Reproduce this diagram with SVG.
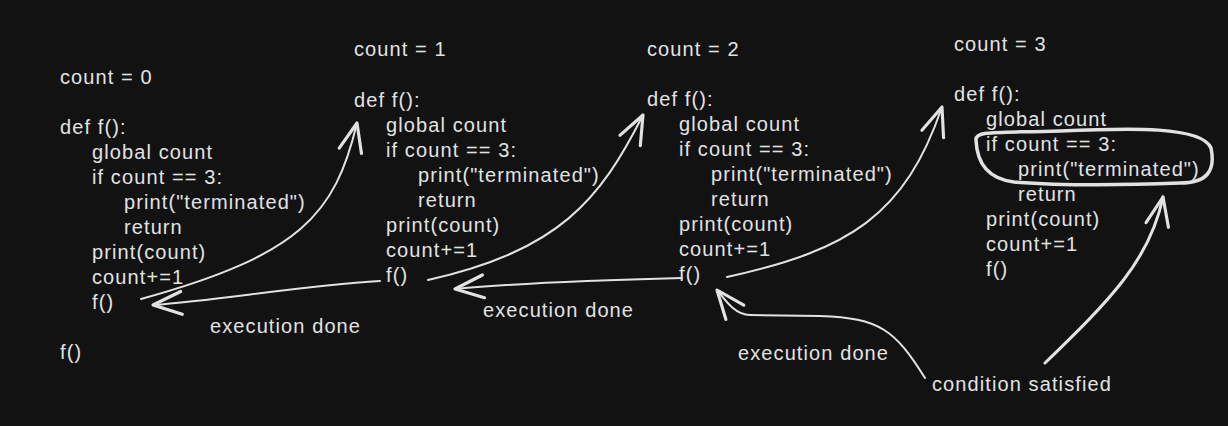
<svg xmlns="http://www.w3.org/2000/svg" width="1228" height="426" viewBox="0 0 1228 426">
<defs>
<style>
text{font-family:"Liberation Sans",Arial,sans-serif;font-size:20px;fill:#e2e2e2;letter-spacing:1.1px}
.c{fill:none;stroke:#e2e2e2;stroke-width:2;stroke-linecap:round;stroke-linejoin:round}
.thick{stroke-width:3}
</style>
<marker id="ah" markerUnits="userSpaceOnUse" markerWidth="40" markerHeight="40" viewBox="-24 -12 28 24" refX="0" refY="0" orient="auto">
<path d="M-20,-8 L0,0 L-20,8" fill="none" stroke="#e2e2e2" stroke-width="2.2" stroke-linecap="round" stroke-linejoin="round"/>
</marker>
</defs>
<rect width="1228" height="426" fill="#121212"/>
<g id="block0">
<text x="60" y="84">count = 0</text>
<text x="60" y="134">def f():</text>
<text x="92" y="159">global count</text>
<text x="92" y="184">if count == 3:</text>
<text x="124" y="209">print("terminated")</text>
<text x="124" y="234">return</text>
<text x="92" y="259">print(count)</text>
<text x="92" y="284">count+=1</text>
<text x="92" y="309">f()</text>
<text x="60" y="359">f()</text>
</g>
<g id="block1">
<text x="354" y="56">count = 1</text>
<text x="354" y="107">def f():</text>
<text x="386" y="132">global count</text>
<text x="386" y="157">if count == 3:</text>
<text x="418" y="182">print("terminated")</text>
<text x="418" y="207">return</text>
<text x="386" y="232">print(count)</text>
<text x="386" y="257">count+=1</text>
<text x="386" y="282">f()</text>
</g>
<g id="block2">
<text x="647" y="56">count = 2</text>
<text x="647" y="106">def f():</text>
<text x="679" y="131">global count</text>
<text x="679" y="156">if count == 3:</text>
<text x="711" y="181">print("terminated")</text>
<text x="711" y="206">return</text>
<text x="679" y="231">print(count)</text>
<text x="679" y="256">count+=1</text>
<text x="679" y="281">f()</text>
</g>
<g id="block3">
<text x="954" y="51">count = 3</text>
<text x="954" y="101">def f():</text>
<text x="986" y="126">global count</text>
<text x="986" y="151">if count == 3:</text>
<text x="1018" y="176">print("terminated")</text>
<text x="1018" y="201">return</text>
<text x="986" y="226">print(count)</text>
<text x="986" y="251">count+=1</text>
<text x="986" y="276">f()</text>
</g>
<g id="highlight">
<path class="c" style="stroke-width:3.5" d="M976,140 C975,130 1000,133 1060,131 C1130,128 1202,126 1211,148 C1216,172 1206,183 1180,183 C1100,186 1040,184 1014,182 C990,179 977,166 976,140 Z"/>
</g>
<g id="labels">
<text x="210" y="333">execution done</text>
<text x="483" y="317">execution done</text>
<text x="738" y="360">execution done</text>
<text x="932" y="391">condition satisfied</text>
</g>
<g id="connectors">
<path class="c" marker-end="url(#ah)" d="M141,299 C300,255 335,215 357,123"/>
<path class="c" marker-end="url(#ah)" d="M380,281 C300,286 220,300 153,305"/>
<path class="c" marker-end="url(#ah)" d="M428,280 C560,250 600,200 643,115"/>
<path class="c" marker-end="url(#ah)" d="M682,278 C600,280 520,283 455,289"/>
<path class="c" marker-end="url(#ah)" d="M727,277 C850,250 905,215 942,107"/>
<path class="c" marker-end="url(#ah)" d="M925,378 C895,330 880,318 820,316 L750,315 C735,315 725,300 717,290"/>
<path class="c thick" marker-end="url(#ah)" d="M1045,363 C1110,300 1150,260 1163,197"/>
</g>
</svg>
